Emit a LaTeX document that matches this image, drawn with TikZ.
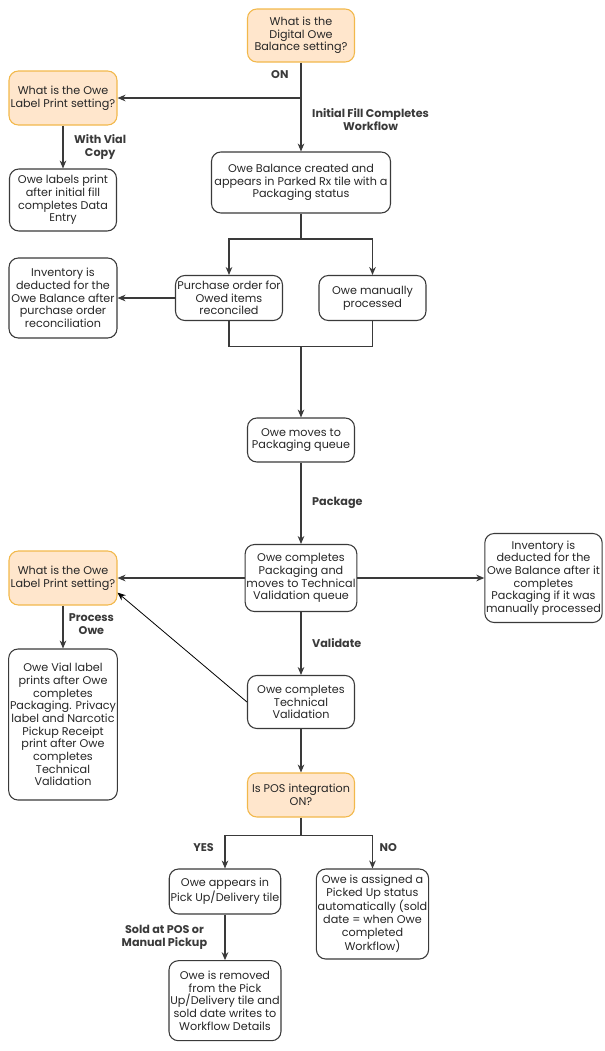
\documentclass[tikz,border=0pt]{standalone}
\usepackage{fontspec}
\setmainfont{Poppins}
\usepackage{tikz}
\usetikzlibrary{arrows.meta, positioning, calc}
\usepackage{xcolor}
\definecolor{decfill}{HTML}{FFE6CC}
\definecolor{decdraw}{HTML}{F2B84B}
\definecolor{ink}{HTML}{3A3A3A}

\begin{document}
\begin{tikzpicture}[
  x=0.75pt, y=-0.75pt,
  every node/.style={font=\fontsize{8.4}{9.5}\selectfont},
  box/.style={rectangle, draw=ink, line width=0.8pt, rounded corners=7pt,
              fill=white, align=center, inner sep=1pt, text=black!85},
  decision/.style={box, fill=decfill, draw=decdraw},
  sz/.style 2 args={minimum width=#1*0.75pt, minimum height=#2*0.75pt},
  lbl/.style={font=\fontsize{8.4}{10}\selectfont\bfseries, align=center, inner sep=0pt},
  arrow/.style={-{Stealth[length=6pt, width=5pt]}, line width=0.8pt, ink},
  line/.style={line width=0.8pt, ink}
]
  \useasboundingbox (0,0) rectangle (605,1051);

  % top decisions
  \node[decision, sz={107}{53}] (dig) at (301,35.5)
    {What is the\\Digital Owe\\Balance setting?};
  \node[decision, sz={108}{54}] (lbl1) at (63,98)
    {What is the Owe\\Label Print setting?};
  \node[box, sz={107}{62}] (vialcopy) at (63,200)
    {Owe labels print\\after initial fill\\completes Data\\Entry};
  \node[box, sz={179}{61}] (bal) at (301,182.5)
    {Owe Balance created and\\appears in Parked Rx tile with a\\Packaging status};

  % processing branch
  \node[box, sz={108}{80}] (inv1) at (63,298)
    {Inventory is\\deducted for the\\Owe Balance after\\purchase order\\reconciliation};
  \node[box, sz={107}{45}] (po) at (229,298)
    {Purchase order for\\Owed items\\reconciled};
  \node[box, sz={107}{45}] (man) at (372.5,298)
    {Owe manually\\processed};
  \node[box, sz={107}{44}] (pkq) at (301,440)
    {Owe moves to\\Packaging queue};

  % packaging and validation
  \node[box, sz={107}{67}] (pkg) at (301,578)
    {Owe completes\\Packaging and\\moves to Technical\\Validation queue};
  \node[decision, sz={108}{54}] (lbl2) at (63,578)
    {What is the Owe\\Label Print setting?};
  \node[box, sz={116}{89}] (inv2) at (543.5,578)
    {Inventory is\\deducted for the\\Owe Balance after it\\completes\\Packaging if it was\\manually processed};
  \node[box, sz={108}{151}] (vlab) at (63,724.5)
    {Owe Vial label\\prints after Owe\\completes\\Packaging. Privacy\\label and Narcotic\\Pickup Receipt\\print after Owe\\completes\\Technical\\Validation};
  \node[box, sz={107}{53}] (tv) at (301,702)
    {Owe completes\\Technical\\Validation};

  % POS
  \node[decision, sz={107}{44}] (pos) at (301,795)
    {Is POS integration\\ON?};
  \node[box, sz={107}{45}] (pu) at (225,891.5)
    {Owe appears in\\Pick Up/Delivery tile};
  \node[box, sz={107}{90}] (nob) at (372.5,914)
    {Owe is assigned a\\Picked Up status\\automatically (sold\\date = when Owe\\completed\\Workflow)};
  \node[box, sz={107}{80}] (rem) at (225,1000.7)
    {Owe is removed\\from the Pick\\Up/Delivery tile and\\sold date writes to\\Workflow Details};

  \coordinate (on1) at (301,98);
  \coordinate (sp1) at (301,239);
  \coordinate (mg1) at (301,346.7);
  \coordinate (sp2) at (301,835.7);

  \draw[arrow] (dig.south) --
    node[lbl, pos=0.14, left=9pt] {ON}
    node[lbl, pos=0.64, right=8pt] {Initial Fill Completes\\Workflow} (bal.north);
  \draw[arrow] (on1) -- (lbl1.east);
  \draw[arrow] (lbl1.south) -- node[lbl, right=8pt] {With Vial\\Copy} (vialcopy.north);

  \draw[line] (bal.south) -- (sp1);
  \foreach \n in {po, man}{
    \draw[arrow] (sp1) -| (\n.north);
  }
  \draw[arrow] (po.west) -- (inv1.east);
  \draw[line] (po.south) |- (mg1) -| (man.south);
  \draw[arrow] (mg1) -- (pkq.north);

  \draw[arrow] (pkq.south) -- node[lbl, right=8pt] {Package} (pkg.north);
  \draw[arrow] (pkg.west) -- (lbl2.east);
  \draw[arrow] (pkg.east) -- (inv2.west);
  \draw[arrow] (pkg.south) -- node[lbl, right=8pt] {Validate} (tv.north);
  \draw[-{Stealth[length=6pt, width=5pt]}, line width=0.6pt, black] (tv.west) -- (lbl2.-15);
  \draw[arrow] (lbl2.south) -- node[lbl, pos=0.43, right=4pt] {Process\\Owe} (vlab.north);
  \draw[arrow] (tv.south) -- (pos.north);

  \draw[line] (pos.south) -- (sp2);
  \draw[arrow] (sp2) -| node[lbl, pos=0.68, left=8pt] {YES} (pu.north);
  \draw[arrow] (sp2) -| node[lbl, pos=0.68, right=5pt] {NO} (nob.north);
  \draw[arrow] (pu.south) -- node[lbl, left=13pt] {Sold at POS or\\Manual Pickup} (rem.north);

\end{tikzpicture}
\end{document}
